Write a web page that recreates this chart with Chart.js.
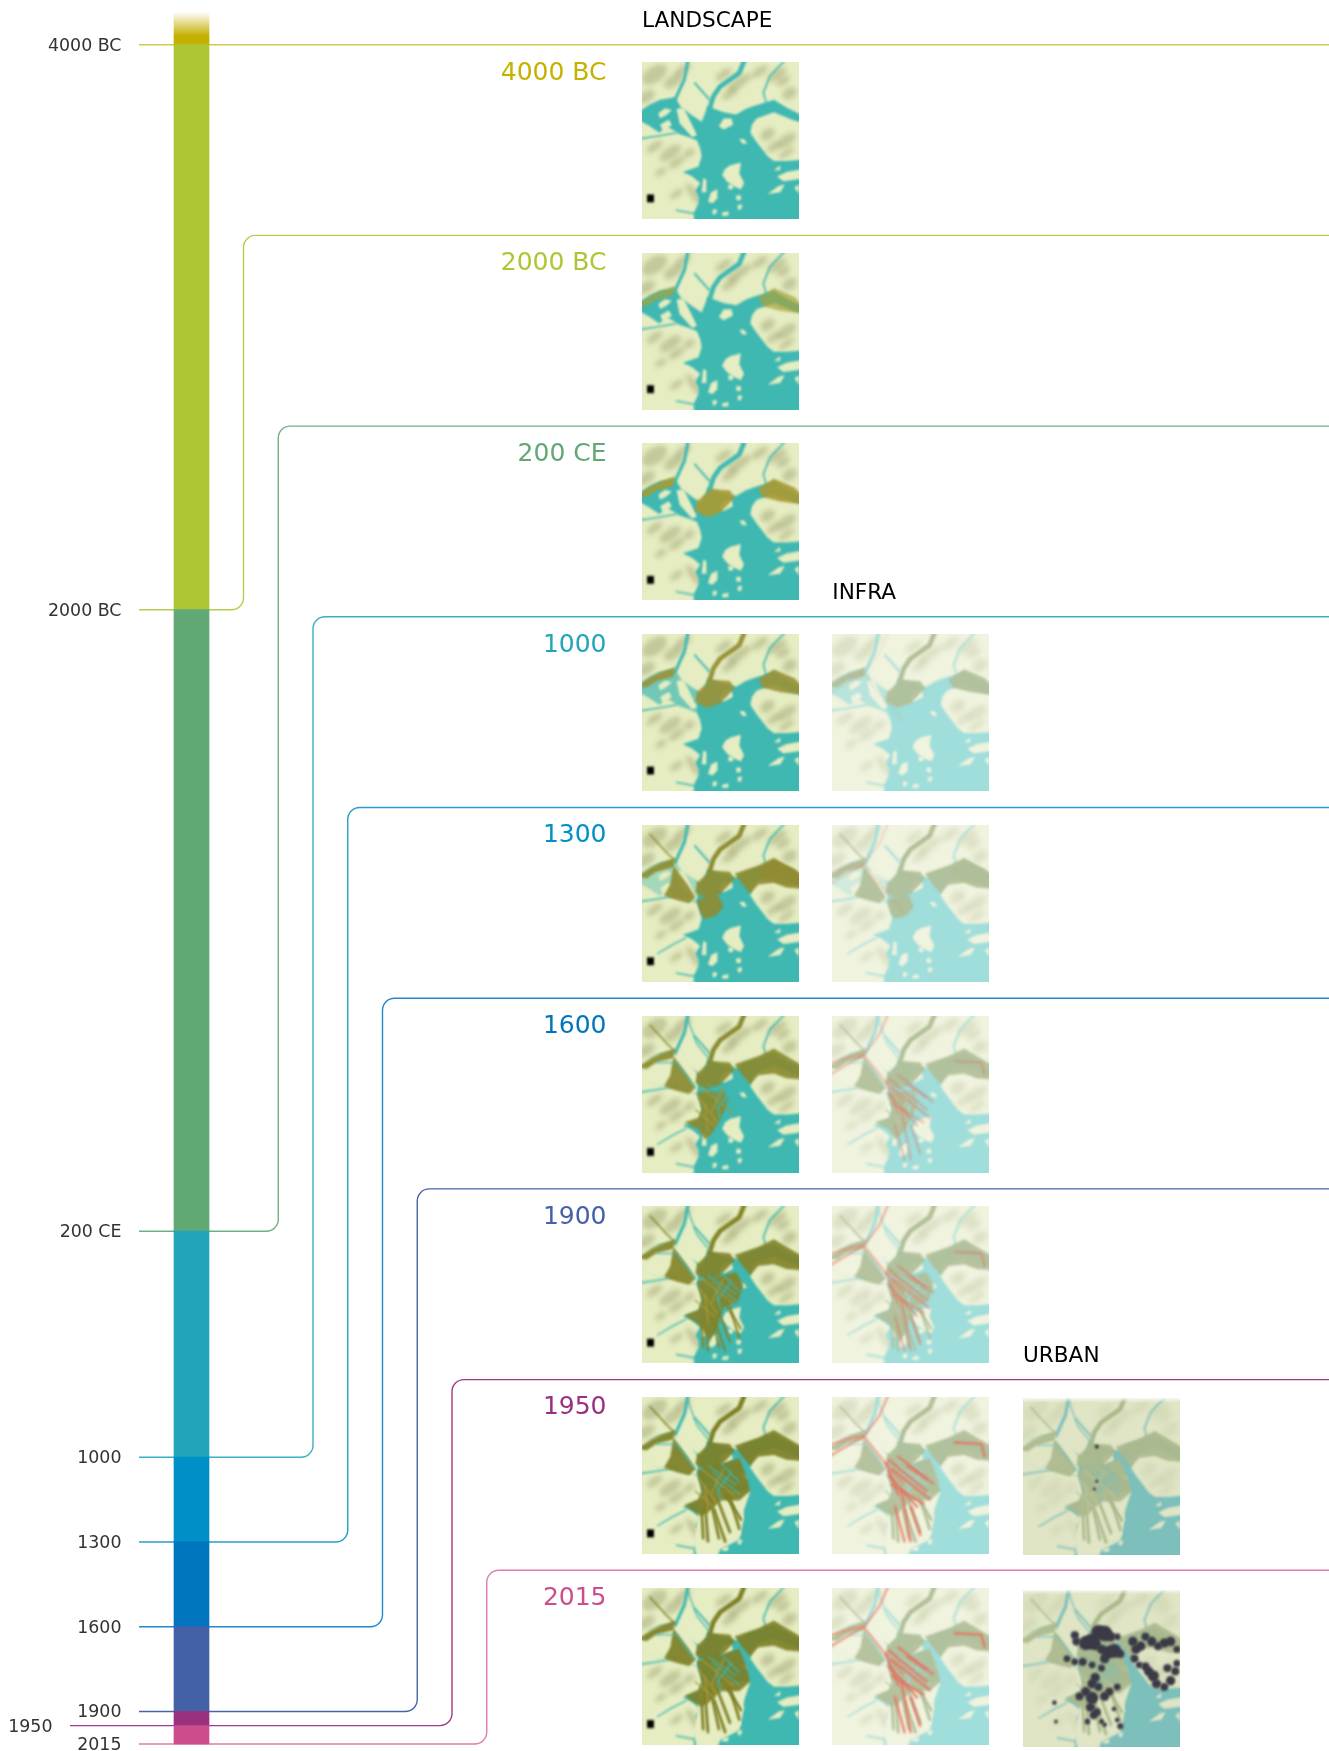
<!DOCTYPE html>
<html><head><meta charset="utf-8">
<style>html,body{margin:0;padding:0;background:#fff}canvas{display:block}</style>
<script src="https://cdn.jsdelivr.net/npm/chart.js@4"></script>
</head><body><canvas id="c" width="1329" height="1751"></canvas>
<script>
// ---------- data ----------
const years      = [-4000,-2000,200,1000,1300,1600,1900,1950,2015];
const axisLabels = ['4000 BC','2000 BC','200 CE','1000','1300','1600','1900','1950','2015'];
const rowLabels  = ['4000 BC','2000 BC','200 CE','1000','1300','1600','1900','1950','2015'];
const eraColors  = ['#c4b000','#afc634','#62a874','#22a5bb','#008fc6','#0075bf','#4460a6','#993080','#cc4c8c'];
const lineColors = ['#d6c84a','#b5cc4e','#6fb082','#3aafc2','#2a9dcc','#2488cb','#4a64a8','#a03a8a','#dd7fb0'];
const textColors = ['#c4b200','#afc634','#62a874','#22a5bb','#0090c8','#0075bf','#4460a6','#9a2f80','#cc4c8c'];
const columnHeaders = ['LANDSCAPE','INFRA','URBAN'];
const columnFirstRow = [0,3,7];
const LEAD_IN_YEAR = -4116;
const OFFSET_LABEL = 1950;

// ---------- layout ----------
const PX_PER_YEAR = 0.2825, TOP0 = 44.7, CW = 1329, CH = 1751, LEFT = 139;
const yMin = years[0] - TOP0/PX_PER_YEAR, yMax = yMin + CH/PX_PER_YEAR;
const ROW_YEARS = 190.7/PX_PER_YEAR;
const rowValue = i => years[0] + ROW_YEARS*i;
const laneX = i => 243.5 + 34.75*(i-1);
const colX = [642,832.3,1023];
const BAR_X = 191.5;

// ---------- map thumbnail sketch (units 0..100 of a thumbnail) ----------
const WATER = [[33,106],[33,96],[36,90],[36,86],[34,82],[37,77],[32,73],[26,70],[32,68],[36,66.5],[38,60],[37,55],[35,50],[30,48],[24,46],[16,41],[11,45],[5,41],[-4,36],[-4,33],[5,27],[11.5,24],[21,22.5],[25,29],[32,34],[38,38],[40,33],[42,28],[45,29.5],[52,32],[60,33.5],[66,30],[71,28],[78,26],[84,24],[92,29],[100,33],[104,36],[104,39],[96,37],[84,32],[73,36],[70,40],[69,45],[73,51],[77,56],[80,60],[84,63],[92,63],[106,62],[106,106]];
const ISLANDS = [
 [[51,72],[53,68],[56,66],[63,64],[62,71],[65,77],[63,81],[58,79],[54,76]],
 [[42,89],[44,83],[48,81],[48,87],[45,90]],
 [[38,83],[39,74],[41,75],[41,83]],
 [[49,41],[52,36],[57,36],[58,40],[52,43]],
 [[86,73],[92,70],[104,68],[104,74],[90,76]],
 [[80,84],[87,79],[91,78],[88,83]],
 [[10.4,32.6],[14.7,29.5],[19,30.6],[15.6,33.8],[11.5,35.9]],
 [[22,30],[26.5,29],[35,46.5],[32,48],[24,39]],
 [[17,36.8],[19,40],[13.6,44.2],[11.5,40]],
 [[62,49],[65,49],[67,52],[64,52]],
 [[51,96],[55,95],[55,98],[51,98]],
 [[60,85],[63,85],[63,88],[60,88]],
 [[61,91],[64,91],[63,94],[61,94]],
 [[45,94],[48,94],[47,97],[45,97]],
 [[55,78],[58,78],[58,81],[55,81]],
 [[97,80],[100,78],[100,84]],
 [[84,69],[88,66],[88,69]]
];
const TERRAIN = [[8,8,9,5],[20,12,7,3.5],[3,22,6,3.5],[26,5,6,2.5],[62,13,9,3],[75,6,6,2.5],[86,8,7,3],[94,20,5,3.5],[90,12,5,2.5],[92,50,7,3.5],[80,46,5,3.5],[84,54,5,2.5],[18,58,8,3.5],[22,64,6,2.5],[33,84,2.5,8],[8,54,6,2.5],[52,8,6,2.5],[22,84,5,2],[92,58,6,2],[12,70,4,2],[30,58,4,2.5],[56,20,6,2.5]];
const RIVERS = [
 {p:[[29.5,-2],[27,11],[22,22],[21,24]],w:2,k:'water'},
 {p:[[65.6,-2],[62,7],[49.7,15.7],[45.4,22],[43,30]],w:3,k:'r2'},
 {p:[[33.7,13.4],[43,24]],w:1.2,k:'water'},
 {p:[[92,-2],[81.5,9],[77.3,19.5],[79.4,27]],w:1,k:'water'},
 {p:[[-2,49],[9.3,47.3],[22,45]],w:1,k:'water'},
 {p:[[22,94.4],[33.7,96.6]],w:1,k:'water'},
 {p:[[5,6],[16,18],[21,23]],w:.9,k:'late'},
 {p:[[10,82],[20,76],[28,72]],w:.9,k:'lateWater'}
];
const WEST_LAND = [[-4,30],[10,25],[24,22],[36,38],[35,50],[24,47],[16,42],[11,46],[-4,38]];
const westLandAlpha = [0,0,0,.3,.6,1,1,1,1];
const O_WEST   = [[-3,33],[6,27],[11.5,24.5],[21,21],[20,27],[9,30],[3,34]];
const O_WEST2  = [[20,26],[29,38],[34,46],[30,50],[22,48],[14,45],[18,38]];
const O_CENTER = [[35,37],[44,29],[56,30],[59,34.5],[50,44],[41.5,47],[34,43]];
const O_EAST   = [[74,29],[84,22.5],[97,28],[104,35],[104,39],[88,37],[77,34]];
const O_NECK   = [[59,31],[74,26],[84,21],[104,33],[104,41],[92,40],[84,37],[74,38],[69,44],[64,38]];
const O_D4 = [[35,48],[48,44],[52,52],[47,58],[40,60],[37,56]];
const O_D5 = [[35,49],[52,48],[55,54],[51,64],[45,74.5],[40,79],[36,72.5],[27,68],[36,65],[38,60]];
const O_D6 = [[35,48],[60,42],[64.5,50],[61,61],[52,64],[47.5,78],[43,86],[39.5,80],[36,75],[27,69.5],[36,66],[38,60]];
const O_D8 = [[35,47],[62,39],[66.6,50.6],[68.8,60],[62,66],[50,66],[44,72],[38,76],[27,69],[36,65],[38,60]];
const SOUTH_LAND = [[38,60],[69,60],[65,72],[64,82],[62,91],[50,97],[46,106],[36,106],[33,94]];
const oliveStages = [[],[O_WEST,O_EAST],[O_WEST,O_CENTER,O_EAST],[O_WEST,O_CENTER,O_EAST],[O_WEST,O_WEST2,O_CENTER,O_EAST,O_D4,O_NECK],[O_WEST,O_WEST2,O_CENTER,O_NECK,O_D5],[O_WEST,O_WEST2,O_CENTER,O_NECK,O_D6],[O_WEST,O_WEST2,O_CENTER,O_NECK,O_D8],[O_WEST,O_WEST2,O_CENTER,O_NECK,O_D8]];
const oliveTone = ['#a9a23a','#a9a23a','#a89a35','#99923a','#8f8c32','#8a8a30','#838329','#7d7f26','#7d7f26'];
const SOUTH_STRIPS = [[[43,62],[49,90]],[[40,66],[42,92]],[[48,65],[56,86]],[[53,62],[63,78]],[[38,72],[39,90]],[[46,72],[53,92]],[[56,64],[62,84]]];
const STREAKS = [[[38,46],[58,62]],[[42,44],[60,56]],[[36,52],[48,68]],[[45,48],[62,62]],[[40,56],[42,74]],[[47,52],[50,66]],[[52,46],[44,62]],[[57,48],[48,60]],[[34,60],[46,70]],[[50,42],[62,54]]];
const RED_NW = [[[36,-2],[30,12],[20,25],[-2,38]],[[20,25],[32,40],[45,55]],[[0,30],[12,26],[20,25]]];
const RED_CORE = [[[36,40],[60,60]],[[38,46],[62,65]],[[42,38],[64,55]],[[36,50],[54,70]],[[44,60],[50,92]],[[40,70],[46,92]],[[50,70],[56,88]],[[78,29],[95,30],[97,38]],[[34,42],[42,62]],[[48,44],[60,52]],[[38,56],[58,68]]];
const redAlpha = [0,0,0,.12,.28,.55,.7,.85,.9];
const BLOBS_1950 = [[47,31,1.3],[47,53,1],[45.5,58,1]];
const BLOBS_2015 = [[33,29,2.6],[34,33,2.6],[40,34,4.5],[44,33,5],[48,27,4.5],[52,28,5],[46,35,3.5],[56,30,3],[60,30,2.2],[50,38,3],[54,40,4],[58,39,4.5],[52,44,3],[62,41,2.6],[70,33,3],[72,38,3],[75,36,3],[78,30,2.6],[82,33,3],[86,36,2.6],[90,34,3],[94,33,3],[98,38,2.2],[71,44,2.6],[74,48,2.2],[78,49,2.6],[80,52,3],[83,55,3.6],[85,60,3],[90,62,2.6],[94,58,3],[97,52,2.6],[98,47,2.2],[92,50,2.6],[28,44,2.2],[33,46,2.2],[38,46,2.6],[44,48,2.2],[50,50,2.2],[46,56,3],[44,60,3],[48,62,2.6],[40,65,3],[36,68,2.6],[44,69,4],[52,68,3],[55,65,2.6],[60,62,2.2],[43,75,3],[45,80,2.6],[47,78,2.6],[41,84,1.8],[50,84,1.6],[58,76,1.5],[60,83,1.5],[62,87,2],[52,86,1.5],[20,72,1.5],[21,84,1.2]];
const palettes = [
 {land:'#e6edc2',terrain:'rgba(135,135,85,.36)',water:'#3fb8b1'},
 {land:'#f0f3de',terrain:'rgba(165,170,125,.24)',water:'#a0dedb',olive:'#b1bf98',strip:'#c2c4a4'},
 {land:'#dfe5c5',terrain:'rgba(165,170,125,.16)',water:'#7dbfbb',olive:'#abb98c',strip:'#b9c49c'}
];
const MAP_SIZE = 157;
function poly(g,pts){g.beginPath();pts.forEach((p,i)=>i?g.lineTo(p[0],p[1]):g.moveTo(p[0],p[1]));g.closePath();}
function stroke(g,pts,w,c){g.beginPath();pts.forEach((p,i)=>i?g.lineTo(p[0],p[1]):g.moveTo(p[0],p[1]));g.lineWidth=w;g.strokeStyle=c;g.stroke();}
function paintMap(row,col){
  const cv=document.createElement('canvas');cv.width=cv.height=MAP_SIZE;
  const g=cv.getContext('2d'),P=palettes[col];
  const olive=P.olive||oliveTone[row],strip=P.strip||'#ab9a3c';
  g.scale(MAP_SIZE/100,MAP_SIZE/100);g.lineCap='round';g.lineJoin='round';
  g.fillStyle=P.land;g.fillRect(0,0,100,100);
  g.filter='blur(2.4px)';g.fillStyle=P.terrain;
  TERRAIN.forEach(t=>{g.beginPath();g.ellipse(t[0],t[1],t[2],t[3],-.6,0,7);g.fill();});
  g.filter='blur(1px)';
  g.fillStyle=P.water;poly(g,WATER);g.fill();
  g.fillStyle=P.land;ISLANDS.forEach(s=>{poly(g,s);g.fill();});
  if(westLandAlpha[row]){g.globalAlpha=westLandAlpha[row];poly(g,WEST_LAND);g.fill();g.globalAlpha=1;}
  RIVERS.forEach(r=>{
    if((r.k==='late'||r.k==='lateWater')&&row<4)return;
    const c=((r.k==='r2'&&row>=3)||r.k==='late')?olive:P.water;
    stroke(g,r.p,r.w,c);
  });
  if(row>=7){g.fillStyle=P.land;poly(g,SOUTH_LAND);g.fill();}
  g.fillStyle=olive;g.globalAlpha=row===1?.7:.92;
  oliveStages[row].forEach(s=>{poly(g,s);g.fill();});
  g.globalAlpha=1;
  if(row>=6)SOUTH_STRIPS.forEach(s=>stroke(g,s,row>=7?1.8:1.3,olive));
  if(row>=5){
    STREAKS.forEach((s,i)=>stroke(g,s,.8,i%2?P.water:strip));
    stroke(g,[[9,30],[22,30],[34,46]],.9,P.water);
    stroke(g,[[29,2],[35,18],[43,28]],.8,P.water);
  }
  if(col===1&&redAlpha[row]){
    g.globalAlpha=redAlpha[row];
    RED_NW.forEach(s=>stroke(g,s,1.1,'#e8826f'));
    if(row>=5)RED_CORE.forEach(s=>stroke(g,s,row>=7?1.5:1,'#e8705f'));
    g.globalAlpha=1;
  }
  if(col===2){
    g.filter='blur(1px)';g.fillStyle='#3b3a46';
    (row===8?BLOBS_2015:BLOBS_1950).forEach(b=>{g.beginPath();g.arc(b[0],b[1],b[2],0,7);g.fill();});
  }
  if(col===0){
    g.filter='blur(0.8px)';g.fillStyle='#000';g.fillRect(3.2,84.4,4.4,5);
  }
  g.filter='none';
  if(col===2){const gr=g.createLinearGradient(0,0,0,3);gr.addColorStop(0,'rgba(255,255,255,.8)');gr.addColorStop(1,'rgba(255,255,255,0)');g.fillStyle=gr;g.fillRect(0,0,100,3);}
  return cv;
}

// ---------- chart ----------
const barData = years.map((y,i)=>({x:BAR_X,y:[i?years[i-1]:LEAD_IN_YEAR,y]}));
const connectorSets = years.map((y,i)=>{
  const startX = y===OFFSET_LABEL ? 70 : LEFT;
  const pts = i===0 ? [{x:startX,y},{x:CW,y}]
                    : [{x:startX,y},{x:laneX(i),y},{x:laneX(i),y:rowValue(i)},{x:CW,y:rowValue(i)}];
  return {type:'line',data:pts,borderColor:lineColors[i],borderWidth:1.4,pointRadius:0,clip:false,order:1,xAxisID:'x',yAxisID:'y',tension:0,label:axisLabels[i]};
});
const roundedConnectors = {
  id:'roundedConnectors',
  beforeDatasetDraw(chart,args){
    const ds=chart.data.datasets[args.index];
    if(ds.type!=='line')return;
    const pts=args.meta.data,c=chart.ctx;
    c.save();c.beginPath();c.moveTo(pts[0].x,pts[0].y);
    for(let i=1;i<pts.length-1;i++)c.arcTo(pts[i].x,pts[i].y,pts[i+1].x,pts[i+1].y,12);
    const l=pts[pts.length-1];c.lineTo(l.x,l.y);
    c.lineWidth=ds.borderWidth;c.strokeStyle=ds.borderColor;c.stroke();c.restore();
    return false;
  }
};
const tickNudge = {
  id:'tickNudge',
  beforeDraw(chart){
    chart.scales.y.getLabelItems(chart.chartArea).forEach(it=>{
      if(it._nudged)return;it._nudged=true;
      const t=it.options.translation;
      t[1]+=1.5;
      if(it.label===axisLabels[years.indexOf(OFFSET_LABEL)])t[0]-=69;
    });
  }
};
const thumbs = {};
const rowContent = {
  id:'rowContent',
  beforeDatasetsDraw(chart){
    const c=chart.ctx,Y=chart.scales.y;
    c.save();
    rowLabels.forEach((t,i)=>{
      const py=Y.getPixelForValue(rowValue(i));
      c.font='25px "DejaVu Sans"';c.fillStyle=textColors[i];c.textAlign='right';c.textBaseline='middle';
      c.fillText(t,606.5,py+28.3);
      columnFirstRow.forEach((first,col)=>{
        if(i<first)return;
        const key=i+'_'+col;
        thumbs[key]=thumbs[key]||paintMap(i,col);
        const dy=col===2?(i===8?2:1):0;
        c.drawImage(thumbs[key],colX[col],py+17.3+dy,MAP_SIZE,MAP_SIZE);
      });
    });
    columnHeaders.forEach((t,col)=>{
      const py=Y.getPixelForValue(rowValue(columnFirstRow[col]));
      c.font='21.6px "DejaVu Sans"';c.fillStyle='#000';c.textAlign='left';c.textBaseline='middle';
      c.fillText(t,colX[col],py-23);
    });
    c.restore();
  }
};
function eraFill(ctx){
  if(ctx.dataIndex!==0)return eraColors[ctx.dataIndex];
  const Y=ctx.chart.scales.y;
  const top=Y?Y.getPixelForValue(LEAD_IN_YEAR):NaN;
  if(!Number.isFinite(top))return eraColors[0];
  const g=ctx.chart.ctx.createLinearGradient(0,top,0,top+24);
  g.addColorStop(0,'#ffffff');g.addColorStop(1,eraColors[0]);return g;
}
new Chart(document.getElementById('c'),{
  data:{datasets:[
    {type:'bar',data:barData,order:0,barThickness:35,borderWidth:0,grouped:false,xAxisID:'x',yAxisID:'y',label:'eras',backgroundColor:eraFill},
    ...connectorSets
  ]},
  options:{responsive:false,animation:false,devicePixelRatio:1,
    layout:{padding:0,autoPadding:false},
    plugins:{legend:{display:false},title:{display:false},tooltip:{enabled:false}},
    scales:{
      x:{type:'linear',min:LEFT,max:CW,offset:false,display:false},
      y:{type:'linear',position:'left',reverse:true,min:yMin,max:yMax,offset:false,
        grid:{display:false,drawTicks:false},border:{display:false},
        afterBuildTicks(s){s.ticks=years.map(v=>({value:v}));},
        afterFit(s){s.width=LEFT;s.paddingTop=0;s.paddingBottom=0;},
        ticks:{autoSkip:false,padding:17.5,color:'#333',font:{family:'"DejaVu Sans"',size:17.4},maxRotation:0,minRotation:0,
          callback:v=>axisLabels[years.indexOf(v)]}}
    }
  },
  plugins:[tickNudge,roundedConnectors,rowContent]
});
</script></body></html>
